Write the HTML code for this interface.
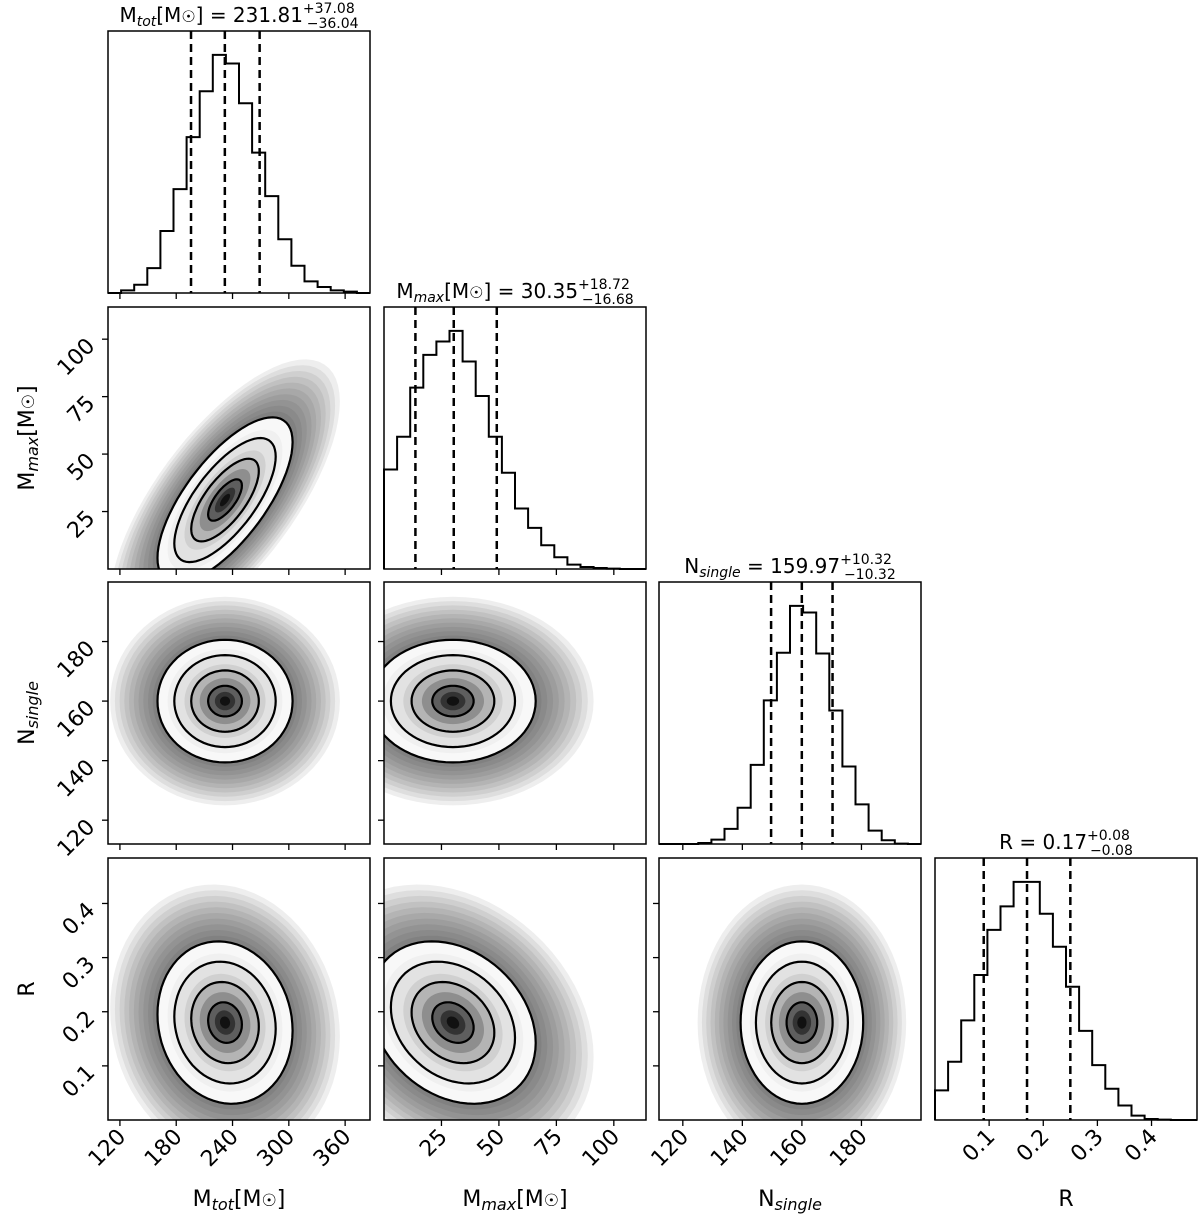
<!DOCTYPE html>
<html><head><meta charset="utf-8"><style>
html,body{margin:0;padding:0;background:#fff;}
svg{display:block;font-family:"DejaVu Sans","Liberation Sans",sans-serif;}
</style></head><body>
<svg id="chart" width="1200" height="1227" viewBox="0 0 1200 1227" xmlns="http://www.w3.org/2000/svg"></svg>
<script>
// ---- data ----
const paramNames = ["Mtot","Mmax","Nsingle","R"];
const axisRanges = [[107.3,386.5],[0,114],[112,200],[0,0.484]];
const tickValues = [[120,180,240,300,360],[25,50,75,100],[120,140,160,180],[0.1,0.2,0.3,0.4]];
const tickLabels = [["120","180","240","300","360"],["25","50","75","100"],["120","140","160","180"],["0.1","0.2","0.3","0.4"]];
const histMtot = [0,8,25,75,187,313,470,608,718,692,572,423,292,162,82,35,18,8,4,0];
const histMmax = [298,396,543,641,681,713,621,518,396,288,181,123,71,35,13,6,3,1,0,0];
const histNsingle = [0,0,0,3,13,45,108,236,428,570,710,690,568,398,231,118,40,11,1,0];
const histR = [88,173,296,431,565,635,708,708,613,515,396,265,163,93,43,13,3,1,0,0];
const quantMtot = [195.77,231.81,268.89];
const quantMmax = [13.67,30.35,49.07];
const quantNsingle = [149.65,159.97,170.29];
const quantR = [0.09,0.17,0.25];
const centers = [232,30,160,0.18];
const sigmas = [36,18,10.3,0.075];
const corrRows = [[1,0.7,0,-0.1],[0.7,1,0,-0.25],[0,0,1,0],[-0.1,-0.25,0,1]];
const contourLevels = [0.5,1,1.5,2];

// ---- layout ----
const L=[108,384,659,935], T=[31,307,582,858], W=262, H=262;
const svg=document.getElementById('chart');
const NS="http://www.w3.org/2000/svg";
function mk(tag,attrs,parent){const e=document.createElementNS(NS,tag);for(const k in attrs)e.setAttribute(k,attrs[k]);(parent||svg).appendChild(e);return e;}
function xs(c,v){const r=axisRanges[c];return L[c]+(v-r[0])/(r[1]-r[0])*W;}
function ys(rw,v){const r=axisRanges[rw];return T[rw]+H-(v-r[0])/(r[1]-r[0])*H;}
const hists=[histMtot,histMmax,histNsingle,histR];
const quants=[quantMtot,quantMmax,quantNsingle,quantR];

const defs=mk('defs',{});
for(let i=0;i<4;i++){
  const g=mk('g',{});
  
  
  const h=hists[i], mx=Math.max(...h)*1.1, base=T[i]+H;
  const r=axisRanges[i], bw=(r[1]-r[0])/h.length;
  let d='M'+xs(i,r[0])+','+base;
  h.forEach((c,k)=>{const y=base-c/mx*H;d+=' L'+xs(i,r[0]+k*bw)+','+y+' L'+xs(i,r[0]+(k+1)*bw)+','+y;});
  d+=' L'+xs(i,r[1])+','+base;
  const p=mk('path',{d:d,fill:'none',stroke:'#000','stroke-width':2},g);
  
  
  quants[i].forEach(q=>{
    const l=mk('line',{x1:xs(i,q),x2:xs(i,q),y1:T[i],y2:base,stroke:'#000','stroke-width':2.5,'stroke-dasharray':'8,5'},g);
    
    
  });
}
function ell(i,j,r){
  const rho=corrRows[i][j];let pts=[];
  for(let k=0;k<72;k++){const t=k/72*2*Math.PI;
    const xv=centers[j]+sigmas[j]*r*Math.cos(t);
    const yv=centers[i]+sigmas[i]*r*(rho*Math.cos(t)+Math.sqrt(1-rho*rho)*Math.sin(t));
    pts.push(xs(j,xv).toFixed(1)+','+ys(i,yv).toFixed(1));}
  return pts.join(' ');
}
for(let i=1;i<4;i++)for(let j=0;j<i;j++){
  const cp=mk('clipPath',{id:'c'+i+j},defs);
  mk('rect',{x:L[j],y:T[i],width:W,height:H},cp);
  const g=mk('g',{'clip-path':'url(#c'+i+j+')'});
  
  
  for(let r=3.4;r>2.0;r-=0.14){mk('polygon',{points:ell(i,j,r),fill:'#1a1a1a','fill-opacity':0.075},g);}
  const steps=[2.0,1.7,1.5,1.2,1.0,0.75,0.5,0.3,0.15];
  const grays=['#f8f8f8','#f0f0f0','#e2e2e2','#d0d0d0','#b4b4b4','#8e8e8e','#5e5e5e','#333','#111'];
  steps.forEach((r,k)=>mk('polygon',{points:ell(i,j,r),fill:grays[k]},g));
  contourLevels.forEach(r=>{const p=mk('polygon',{points:ell(i,j,r),fill:'none',stroke:'#000','stroke-width':2.2},g);
    
    });
}
for(let i=0;i<4;i++)for(let j=0;j<=i;j++){
  const f=mk('rect',{x:L[j],y:T[i],width:W,height:H,fill:'none',stroke:'#000','stroke-width':1.5});
  
  
  tickValues[j].forEach((v,k)=>{
    const x=xs(j,v);mk('line',{x1:x,x2:x,y1:T[i]+H,y2:T[i]+H+6,stroke:'#000','stroke-width':1.3});
    if(i==3){const t=mk('text',{x:x+7,y:T[i]+H+18,'font-size':22,'text-anchor':'end',transform:'rotate(-45 '+(x+7)+' '+(T[i]+H+18)+')'});t.textContent=tickLabels[j][k];
      }
  });
  if(i!=j)tickValues[i].forEach((v,k)=>{
    const y=ys(i,v);mk('line',{x1:L[j]-6,x2:L[j],y1:y,y2:y,stroke:'#000','stroke-width':1.3});
    if(j==0){const t=mk('text',{x:L[0]-12,y:y+8,'font-size':22,'text-anchor':'end',transform:'rotate(-45 '+(L[0]-12)+' '+(y+8)+')'});t.textContent=tickLabels[i][k];
      }
  });
}
</script>
<svg style="position:absolute;left:0;top:0" width="1200" height="1227" font-family="DejaVu Sans, Liberation Sans, sans-serif">
<g font-size="20" text-anchor="middle">
<text x="239" y="22">M<tspan font-style="italic" font-size="14" dy="4">tot</tspan><tspan dy="-4">[M</tspan><tspan font-size="16">☉</tspan>] = 231.81<tspan font-size="14" dy="-9">+37.08</tspan><tspan font-size="14" dx="-48" dy="15">−36.04</tspan></text>
<text x="515" y="298">M<tspan font-style="italic" font-size="14" dy="4">max</tspan><tspan dy="-4">[M</tspan><tspan font-size="16">☉</tspan>] = 30.35<tspan font-size="14" dy="-9">+18.72</tspan><tspan font-size="14" dx="-48" dy="15">−16.68</tspan></text>
<text x="790" y="573">N<tspan font-style="italic" font-size="14" dy="4">single</tspan><tspan dy="-4"> = 159.97</tspan><tspan font-size="14" dy="-9">+10.32</tspan><tspan font-size="14" dx="-48" dy="15">−10.32</tspan></text>
<text x="1066" y="849">R = 0.17<tspan font-size="14" dy="-9">+0.08</tspan><tspan font-size="14" dx="-40" dy="15">−0.08</tspan></text>
</g>
<g font-size="22" text-anchor="middle">
<text x="239" y="1206">M<tspan font-style="italic" font-size="16" dy="4">tot</tspan><tspan dy="-4">[M</tspan><tspan font-size="17">☉</tspan>]</text>
<text x="515" y="1206">M<tspan font-style="italic" font-size="16" dy="4">max</tspan><tspan dy="-4">[M</tspan><tspan font-size="17">☉</tspan>]</text>
<text x="790" y="1206">N<tspan font-style="italic" font-size="16" dy="4">single</tspan></text>
<text x="1066" y="1206">R</text>
<text transform="translate(34 438) rotate(-90)">M<tspan font-style="italic" font-size="16" dy="4">max</tspan><tspan dy="-4">[M</tspan><tspan font-size="17">☉</tspan>]</text>
<text transform="translate(34 713) rotate(-90)">N<tspan font-style="italic" font-size="16" dy="4">single</tspan></text>
<text transform="translate(34 989) rotate(-90)">R</text>
</g>
</svg>
</body></html>
